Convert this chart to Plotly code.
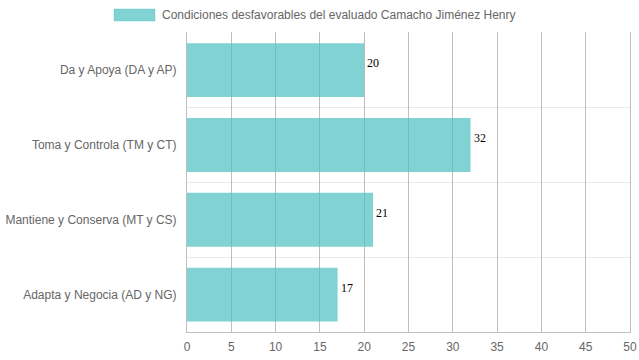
import plotly.graph_objects as go

categories = ["Da y Apoya (DA y AP)", "Toma y Controla (TM y CT)",
              "Mantiene y Conserva (MT y CS)", "Adapta y Negocia (AD y NG)"]
values = [20, 32, 21, 17]
series_name = "Condiciones desfavorables del evaluado Camacho Jiménez Henry"
x_ticks = [0, 5, 10, 15, 20, 25, 30, 35, 40, 45, 50]

positions = list(range(len(categories)))
boundaries = [p - 0.5 for p in positions]

bar_color = "rgba(75,192,192,0.7)"
grid_color = "rgba(0,0,0,0.25)"
font = dict(family="Liberation Sans, Arial, sans-serif", size=12, color="#666")

fig = go.Figure()
fig.add_trace(go.Bar(
    x=values, y=positions, orientation="h", width=0.72,
    marker=dict(color=bar_color, line=dict(width=0)),
    name=series_name, showlegend=False, hoverinfo="x+y",
))

for p, v in zip(positions, values):
    fig.add_annotation(x=v, y=p, text=str(v), showarrow=False,
                       xanchor="left", yanchor="bottom", xshift=1, yshift=-2,
                       font=dict(family="Liberation Serif, Times New Roman, serif",
                                 size=12, color="#000"))

# custom legend
fig.add_shape(type="rect", xref="paper", yref="paper",
              x0=(114 - 187) / 443, x1=(155 - 187) / 443,
              y0=1 + (32 - 21) / 300, y1=1 + (32 - 9) / 300,
              fillcolor=bar_color, line=dict(color="rgba(75,192,192,0.35)", width=1))
fig.add_annotation(xref="paper", yref="paper", x=(160 - 187) / 443, y=1 + (32 - 15) / 300,
                   text=series_name, showarrow=False, xanchor="left", yanchor="middle",
                   font=font)

fig.update_layout(
    width=639, height=360,
    margin=dict(l=187, r=9, t=32, b=28),
    paper_bgcolor="white", plot_bgcolor="white",
    font=font,
    bargap=0.28,
    xaxis=dict(range=[0, 50.0001], tickvals=x_ticks, showgrid=True, gridcolor=grid_color,
               gridwidth=1, zeroline=False, showline=True, linecolor=grid_color,
               ticks="", ticklabelstandoff=4, tickfont=font, fixedrange=True,
               automargin=False),
    yaxis=dict(range=[3.5, -0.51], tickvals=positions, ticktext=categories,
               showgrid=False, zeroline=False, showline=True, linecolor=grid_color,
               mirror=True,
               ticks="", ticklabelstandoff=7, tickfont=font,
               minor=dict(tickvals=boundaries, showgrid=True,
                          gridcolor="rgba(0,0,0,0.08)", gridwidth=1, ticks=""),
               fixedrange=True, automargin=False),
)

fig.write_html("out.html", config={"displayModeBar": False},
               post_script="document.body.style.margin='0';")
